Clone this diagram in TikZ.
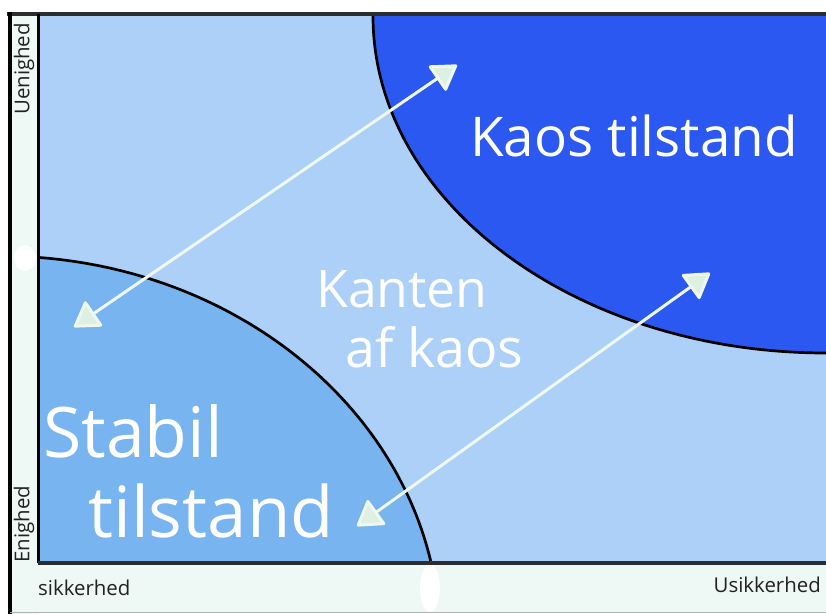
\documentclass[tikz,border=0pt]{standalone}
\usepackage{fontspec}
\setmainfont{Open Sans}
\usetikzlibrary{arrows.meta}

\definecolor{fieldblue}{RGB}{172,208,248}
\definecolor{stabilblue}{RGB}{120,180,240}
\definecolor{kaosblue}{RGB}{42,88,240}
\definecolor{stripmint}{RGB}{238,248,244}
\definecolor{framegray}{RGB}{45,45,48}
\definecolor{axisgray}{RGB}{34,34,34}
\definecolor{arrowline}{RGB}{238,248,238}
\definecolor{arrowfill}{RGB}{222,240,226}

\begin{document}
\begin{tikzpicture}[x=1bp, y=-1bp,
    % tekst og pile
    bigword/.style={text=white, anchor=base west, inner sep=0pt},
    axisword/.style={text=axisgray, inner sep=0pt, font=\fontsize{20.5}{20.5}\selectfont},
    pilhoved/.tip={Triangle[length=26bp, width=32bp, fill=arrowfill, line join=round]},
    biarrow/.style={draw=arrowline, line width=3bp, pilhoved-pilhoved}]

    \useasboundingbox (0,0) rectangle (826,614);

    % Strimler til akserne
    \fill[stripmint] (10,14) rectangle (38,614);
    \fill[stripmint] (10,563) rectangle (826,612);
    \fill[white] (25,258) ellipse [x radius=11bp, y radius=13bp];
    \fill[white] (430,588) ellipse [x radius=10bp, y radius=24bp];

    % Feltet med de to tilstande
    \fill[fieldblue] (38,16) rectangle (826,562);
    \begin{scope}
        \clip (38,16) rectangle (826,562);
        \fill[stabilblue] (0,640) ellipse [x radius=440bp, y radius=384bp];
        \fill[kaosblue] (826,16) ellipse [x radius=453bp, y radius=337bp];
        \draw[black, line width=2.7bp] (0,640) ellipse [x radius=440bp, y radius=384bp];
        \draw[black, line width=2.7bp] (826,16) ellipse [x radius=453bp, y radius=337bp];
    \end{scope}

    % Rammen
    \draw[framegray, line width=4bp] (7,14) -- (826,14);
    \draw[black, line width=3.5bp] (10,12) -- (10,614);
    \draw[black, line width=3bp] (38,14) -- (38,563);
    \draw[framegray, line width=3.5bp] (38,563) -- (826,563);
    \draw[gray!60, line width=1bp] (10,612) -- (826,612);

    % Tekster
    \node[bigword, font=\fontsize{55}{55}\selectfont] (kaos) at (470,157) {Kaos tilstand};
    \node[bigword, font=\fontsize{52}{52}\selectfont] (kanten) at (316,307) {Kanten};
    \node[bigword, font=\fontsize{54}{54}\selectfont] (afkaos) at (345,367) {af kaos};
    \node[bigword, font=\fontsize{70}{70}\selectfont] (stabil) at (43,457) {Stabil};
    \node[bigword, font=\fontsize{71}{71}\selectfont] (tilstand) at (88,537) {tilstand};

    \node[axisword, rotate=90] (uenighed) at (24,69) {Uenighed};
    \node[axisword, rotate=90] (enighed) at (24,524) {Enighed};
    \node[axisword, anchor=base west] (sikker) at (38,595) {sikkerhed};
    \node[axisword, anchor=base east] (usikker) at (821,592) {Usikkerhed};

    % Pile mellem tilstandene
    \coordinate (stabilA) at (74,327);
    \coordinate (kaosA) at (457,65);
    \coordinate (stabilB) at (357,526);
    \coordinate (kaosB) at (710,273);
    \draw[biarrow] (stabilA) -- (kaosA);
    \draw[biarrow] (stabilB) -- (kaosB);

\end{tikzpicture}
\end{document}
